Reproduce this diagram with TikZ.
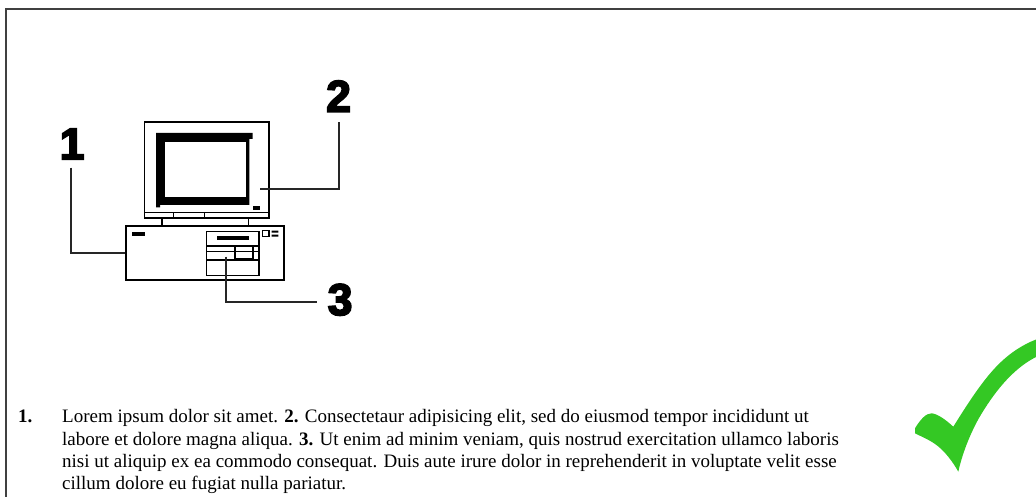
\documentclass[tikz,border=0pt]{standalone}
\usepackage{fontspec}
\setmainfont{Liberation Serif}
\newfontfamily\digitfont[FakeBold=4]{Liberation Sans Bold}
\begin{document}
\begin{tikzpicture}[x=1pt,y=-1pt,
  part/.style={draw=black,line width=1.6pt,fill=white},
  leader/.style={draw=black!85,line width=1.7pt},
  callout/.style={font=\digitfont\fontsize{44.5}{44.5}\selectfont,inner sep=0pt,anchor=base west},
  bodyline/.style={font=\fontsize{19}{22}\selectfont,inner sep=0pt,anchor=base west},
  solid black/.style={fill=black,draw=none}]
\useasboundingbox (0,0) rectangle (1036,497);
\fill[white] (0,0) rectangle (1036,497);

% page frame
\draw[line width=2pt,black!75] (6,500) -- (6,9) -- (1040,9);

% monitor
\draw[part] (144.5,122) rectangle (269,218.3);
\draw[part] (144.5,212.7) rectangle (269,218.3);
\draw[line width=1.5pt] (173.3,212.7) -- (173.3,218.3) (204.3,212.7) -- (204.3,218.3);
% screen bezel
\fill[solid black] (156,133) -- (252.7,133) -- (252.7,139) -- (249.3,139) -- (249.3,205)
  -- (160,205) -- (160,207.5) -- (156,207.5) -- cycle;
\fill[white] (165,141.7) rectangle (246,196.7);
\fill[solid black] (252.7,205.7) rectangle (260,210);
% stand
\draw[line width=1.6pt] (161.7,218.3) -- (161.7,225) (248.3,218.3) -- (248.3,225);

% system unit
\node[part,minimum width=158.3pt,minimum height=54.3pt,inner sep=0pt,anchor=north west] (case) at (125,225) {};
\fill[solid black] (131.7,231.7) rectangle (145,236);
\draw[line width=1.3pt] (262.7,230.7) rectangle (269,236.7);
\fill[solid black] (271.7,230.7) rectangle (278.3,232.7) (271.7,234.7) rectangle (278.3,236.7);
% drive bays
\node[part,line width=1.4pt,minimum width=52.3pt,minimum height=44.3pt,inner sep=0pt,anchor=north west] (bay) at (206,230.7) {};
\fill[solid black] (216.7,236) rectangle (249.3,240);
\draw[line width=1.3pt] (206,246) -- (258.3,246) (206,260) -- (258.3,260)
  (206,251.7) -- (258.3,251.7) (252.7,246) -- (252.7,260);
\draw[line width=1.7pt] (235,246) rectangle (252.7,259.3);

% callouts
\node[callout] (n1) at (59.5,159.3) {1};
\node[callout] (n2) at (326,111.7) {2};
\node[callout] (n3) at (327.5,315) {3};
\coordinate (m2) at (260,189.3);
\coordinate (d3) at (225.7,256.5);
\draw[leader] (70.7,167.7) |- (case.west);
\draw[leader] (m2) -| (339.3,121.7);
\draw[leader] (d3) |- (316.7,302.3);

% caption text
\node[bodyline,font=\bfseries\fontsize{19}{22}\selectfont] (num) at (18,422.7) {1.};
\node[bodyline] (l1) at (62,422.7) {Lorem ipsum dolor sit amet. \textbf{2.} Consectetaur adipisicing elit, sed do eiusmod tempor incididunt ut};
\node[bodyline] (l2) at (62,445.1) {labore et dolore magna aliqua. \textbf{3.} Ut enim ad minim veniam, quis nostrud exercitation ullamco laboris};
\node[bodyline] (l3) at (62,467.5) {nisi ut aliquip ex ea commodo consequat. Duis aute irure dolor in reprehenderit in voluptate velit esse};
\node[bodyline] (l4) at (62,489.9) {cillum dolore eu fugiat nulla pariatur.};

% check mark
\definecolor{tickgreen}{RGB}{52,200,36}
\fill[tickgreen] (915,428.3) .. controls (920,420) and (926,413) .. (931.7,413.3)
  .. controls (938,414) and (946,420) .. (953.3,426.7)
  .. controls (965,408) and (980,384) .. (995,368)
  .. controls (1008,354) and (1022,345) .. (1036,339.5)
  -- (1036,357)
  .. controls (1012,369) and (993,394) .. (979,418)
  .. controls (969,436) and (962,455) .. (958.3,471.7)
  .. controls (953,462) and (944,450) .. (935,444)
  .. controls (928,439) and (920,436) .. (915,433.3) -- cycle;
\end{tikzpicture}
\end{document}
